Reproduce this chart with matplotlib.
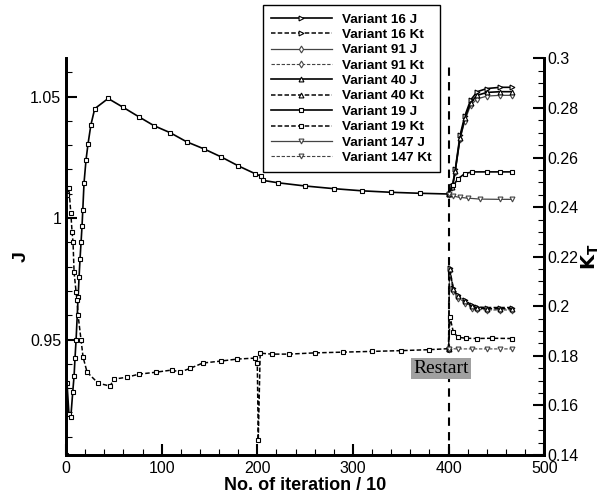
import numpy as np
import matplotlib
matplotlib.use("Agg")
import matplotlib.pyplot as plt
from matplotlib.ticker import MultipleLocator, FuncFormatter

plt.rcParams['font.family'] = ['Liberation Sans', 'DejaVu Sans']

# ---- data ----
# common history up to the restart (variant 19 drawn over it)
x19 = [0, 1, 3, 5, 7, 8.4, 9.4, 10.5, 12.6, 13.6, 14.6, 15.7, 16.7, 17.5, 18.8, 20.9,
       23, 26, 30, 44, 60, 76, 92, 109, 126, 144, 162, 180, 198, 204, 206, 222, 250,
       280, 310, 340, 370, 400, 405, 410, 417, 425, 440, 454, 466]
j19 = [0.90, 0.932, 0.9195, 0.9182, 0.9285, 0.9351, 0.9426, 0.950, 0.9674, 0.9756,
       0.9831, 0.9901, 0.9967, 1.0033, 1.0145, 1.024, 1.0306, 1.0384, 1.045, 1.0492,
       1.0455, 1.0417, 1.038, 1.0351, 1.0314, 1.0285, 1.0252, 1.0215, 1.0182, 1.0172,
       1.0155, 1.0145, 1.0132, 1.0121, 1.0112, 1.0106, 1.0102, 1.0099, 1.0135, 1.0162,
       1.0183, 1.019, 1.019, 1.019, 1.019]

xk19 = [0, 1, 3, 5, 6.3, 7.3, 8.4, 10.5, 11.5, 12.6, 15.7, 17.8, 22, 33.5, 46, 50, 64,
        76, 94, 111, 119, 130, 143, 162, 179, 198, 200, 201, 203, 215, 233, 260, 290,
        320, 350, 380, 400, 401.5, 405, 410, 418, 430, 445, 466]
k19 = [0.14, 0.245, 0.2476, 0.2375, 0.2299, 0.2258, 0.2137, 0.2057, 0.2025, 0.1964,
       0.1863, 0.1795, 0.1734, 0.169, 0.1678, 0.1706, 0.1714, 0.1726, 0.1734, 0.1743,
       0.1734, 0.175, 0.1771, 0.1779, 0.1787, 0.1791, 0.177, 0.146, 0.1811, 0.1807,
       0.1807, 0.1812, 0.1815, 0.1818, 0.1821, 0.1825, 0.1829, 0.1956, 0.1896, 0.1875,
       0.1871, 0.187, 0.1871, 0.187]

# after restart
x_re = [400, 404, 407, 412, 417, 423, 430, 440, 454, 466]
j16 = [1.0099, 1.013, 1.020, 1.034, 1.042, 1.0485, 1.052, 1.0533, 1.0538, 1.0538]
j40 = [1.0099, 1.0128, 1.0195, 1.033, 1.041, 1.0475, 1.0505, 1.0517, 1.052, 1.052]
j91 = [1.0099, 1.0126, 1.019, 1.0325, 1.040, 1.0465, 1.049, 1.0502, 1.0505, 1.0505]

xk_re = [400, 401, 405, 410, 417, 424, 430, 440, 454, 466]
k16 = [0.1829, 0.2154, 0.2073, 0.2045, 0.2025, 0.2005, 0.1997, 0.1995, 0.1995, 0.1995]
k40 = [0.1829, 0.2150, 0.2068, 0.2040, 0.2020, 0.2000, 0.1992, 0.1990, 0.1990, 0.1990]
k91 = [0.1829, 0.2146, 0.2063, 0.2035, 0.2015, 0.1995, 0.1988, 0.1985, 0.1985, 0.1985]

x147 = [400, 405, 412, 420, 433, 454, 466]
j147 = [1.0099, 1.009, 1.0085, 1.0082, 1.0078, 1.0077, 1.0077]
xk147 = [400, 410, 425, 440, 454, 466]
k147 = [0.1829, 0.1828, 0.1828, 0.1828, 0.1828, 0.1828]

variants = ['16', '91', '40', '19', '147']
markers = {'16': '>', '91': 'd', '40': '^', '19': 's', '147': 'v'}
jdata = {'16': (x_re, j16), '91': (x_re, j91), '40': (x_re, j40),
         '19': (x19, j19), '147': (x147, j147)}
kdata = {'16': (xk_re, k16), '91': (xk_re, k91), '40': (xk_re, k40),
         '19': (xk19, k19), '147': (xk147, k147)}
colors = {'16': 'black', '91': '#444444', '40': 'black', '19': 'black', '147': '#444444'}
lws = {'16': 1.2, '91': 0.9, '40': 1.2, '19': 1.2, '147': 0.9}

# ---- figure ----
fig = plt.figure(figsize=(6.06, 4.97), dpi=100)
ax = fig.add_axes([0.109, 0.0845, 0.789, 0.798])
ax2 = ax.twinx()

handles = []
for v in variants:
    xs, ys = jdata[v]
    h1, = ax.plot(xs, ys, color=colors[v], lw=lws[v], marker=markers[v], ms=3.5,
                  mfc='white', mec=colors[v], mew=0.8, label='Variant %s J' % v)
    xs, ys = kdata[v]
    h2, = ax2.plot(xs, ys, color=colors[v], lw=lws[v] * 0.9, ls=(0, (3, 1.5)),
                   marker=markers[v], ms=3.5, mfc='white', mec=colors[v], mew=0.8,
                   label='Variant %s Kt' % v)
    handles += [h1, h2]

ax.axvline(400, color='black', lw=1.5, ls=(0, (4, 3)), ymax=0.99)

ax.set_xlim(0, 500)
ax.set_ylim(0.9025, 1.0657)
ax2.set_ylim(0.14, 0.30)

ax.xaxis.set_major_locator(MultipleLocator(100))
ax.xaxis.set_minor_locator(MultipleLocator(20))
ax.yaxis.set_major_locator(MultipleLocator(0.05))
ax.yaxis.set_minor_locator(MultipleLocator(0.01))
ax2.yaxis.set_major_locator(MultipleLocator(0.02))
ax2.yaxis.set_minor_locator(MultipleLocator(0.005))
fmt = FuncFormatter(lambda v, p: '%g' % round(v, 4))
ax.yaxis.set_major_formatter(fmt)
ax2.yaxis.set_major_formatter(fmt)

for a in (ax, ax2):
    a.spines['top'].set_visible(False)
    for s in ('left', 'right', 'bottom'):
        a.spines[s].set_linewidth(2)
    a.tick_params(which='major', direction='in', length=8, width=1.5, labelsize=11.5)
    a.tick_params(which='minor', direction='in', length=4, width=0.8)
ax.tick_params(axis='x', pad=4)
ax2.tick_params(axis='y', pad=2)

ax.set_xlabel('No. of iteration / 10', fontsize=13, fontweight='bold', labelpad=1)
ax.set_ylabel('J', fontsize=14, fontweight='bold', labelpad=0)
ax2.set_ylabel(r'$\mathbf{K_T}$', fontsize=14, labelpad=1)

ax2.text(392, 0.1749, 'Restart', family='Liberation Serif', fontsize=14,
         ha='center', va='center',
         bbox=dict(boxstyle='square,pad=0.12', fc='#a0a0a0', ec='none'))

leg = fig.legend(handles=handles, loc='upper left',
                 bbox_to_anchor=(263 / 606, 1 - 5 / 497), borderaxespad=0,
                 numpoints=1, handlelength=4.5, labelspacing=0.22, borderpad=0.6,
                 handletextpad=0.75, fancybox=False, framealpha=1,
                 prop={'weight': 'bold', 'size': 9.7})
leg.get_frame().set_edgecolor('black')
leg.get_frame().set_linewidth(1.0)

fig.savefig('out.png', dpi=100)
